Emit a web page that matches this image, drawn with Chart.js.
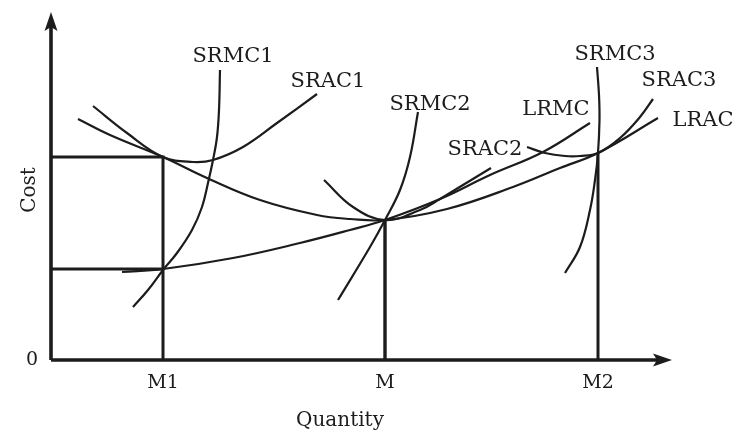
<!DOCTYPE html>
<html>
<head>
<meta charset="utf-8">
<script src="https://cdn.jsdelivr.net/npm/chart.js@4/dist/chart.umd.min.js"></script>
<style>
  html, body { margin: 0; padding: 0; background: #fff; }
  #wrap { width: 745px; height: 437px; }
</style>
</head>
<body>
<div id="wrap"><canvas id="costChart"></canvas></div>
<script>
// quantity levels on the x axis
const qM1 = 11.2, qM = 33.4, qM2 = 54.7;
const tickNames = ['M1', 'M', 'M2'];
const tickValues = [qM1, qM, qM2];

// cost levels marked by the guide lines
const costM1 = 20.3, costM1mc = 9.1, costM = 14.0, costM2 = 20.7;

// curves as [quantity, cost]
const lrac  = [[2.7,24.1],[5.9,22.5],[11.2,20.3],[15.6,18.2],[20.9,16.0],[26.6,14.5],[29.9,14.1],[33.4,14.0],[39.6,15.1],[46.2,17.3],[50.9,19.2],[54.7,20.7],[60.7,24.2]];
const lrmc  = [[7.1,8.8],[11.2,9.1],[18.2,10.2],[24.9,11.7],[29.9,13.0],[33.4,14.0],[38.9,16.1],[43.9,18.5],[49.2,20.8],[53.9,23.7]];
const srac1 = [[4.2,25.4],[7.6,22.7],[11.2,20.3],[14.2,19.8],[16.2,20.0],[19.2,21.3],[22.6,23.7],[26.6,26.6]];
const srmc1 = [[8.2,5.3],[9.7,7.0],[11.2,9.0],[12.6,10.7],[14.1,13.0],[15.1,15.3],[15.7,17.7],[16.2,20.0],[16.6,22.3],[16.8,25.0],[16.9,29.0]];
const srac2 = [[27.3,18.0],[30.2,15.3],[33.4,14.0],[36.9,15.0],[38.9,16.1],[41.2,17.5],[44.0,19.2]];
const srmc2 = [[28.7,6.0],[31.9,11.3],[33.4,14.0],[34.9,17.0],[35.9,20.3],[36.7,24.8]];
const srac3 = [[47.6,21.3],[49.4,20.7],[51.4,20.4],[52.9,20.4],[54.7,20.7],[56.9,22.2],[58.9,24.3],[60.2,26.1]];
const srmc3 = [[51.4,8.7],[52.9,11.3],[53.9,15.0],[54.4,18.0],[54.7,20.7],[54.85,24.0],[54.8,26.5],[54.6,29.3]];

// curve names and where their labels sit
const curveNames = ['SRMC1', 'SRAC1', 'SRMC2', 'LRMC', 'SRAC2', 'SRMC3', 'SRAC3', 'LRAC'];
const curveLabelAt = [[18.2,30.3],[27.7,27.8],[37.9,25.5],[50.5,25.0],[43.4,21.0],[56.4,30.5],[62.8,27.9],[65.2,23.9]];

const xMax = 62.1, yMax = 34.8;
const ink = '#1c1c1c';
const serif = '"DejaVu Serif", "Liberation Serif", serif';

const pts = arr => arr.map(p => ({ x: p[0], y: p[1] }));

// arrow head image used as point style
function arrowHead() {
  const c = document.createElement('canvas');
  c.width = 14; c.height = 20;
  const g = c.getContext('2d');
  g.fillStyle = ink;
  g.beginPath();
  g.moveTo(7, 0);
  g.lineTo(13.5, 19);
  g.lineTo(7, 15);
  g.lineTo(0.5, 19);
  g.closePath();
  g.fill();
  return c;
}
const arrow = arrowHead();

function curve(arr) {
  return { data: pts(arr), showLine: true, borderColor: ink, borderWidth: 2.2, pointRadius: 0, tension: 0.4, clip: false };
}
function straight(arr, w) {
  return { data: pts(arr), showLine: true, borderColor: ink, borderWidth: w, pointRadius: 0, tension: 0, clip: false };
}

const datasets = [
  // axes
  straight([[0,0],[0,yMax - 1.0]], 3.6),
  straight([[0,0],[xMax - 1.0,0]], 3.6),
  { data: [{ x: 0, y: yMax - 1.0 }], pointStyle: arrow, pointRotation: 0, clip: false, showLine: false },
  { data: [{ x: xMax - 1.0, y: 0 }], pointStyle: arrow, pointRotation: 90, clip: false, showLine: false },
  // guide lines
  straight([[0,costM1],[qM1,costM1],[qM1,0]], 3),
  straight([[0,costM1mc],[qM1,costM1mc]], 3),
  straight([[qM,costM],[qM,0]], 3.4),
  straight([[qM2,costM2],[qM2,0]], 3),
  // cost curves
  curve(lrac), curve(lrmc), curve(srac1), curve(srmc1),
  curve(srac2), curve(srmc2), curve(srac3), curve(srmc3)
];

const textPlugin = {
  id: 'texts',
  afterDatasetsDraw(chart) {
    const { ctx, scales: { x, y } } = chart;
    ctx.save();
    ctx.fillStyle = ink;
    ctx.font = '21px ' + serif;
    ctx.textAlign = 'center';
    ctx.textBaseline = 'middle';
    curveNames.forEach((n, i) => {
      ctx.fillText(n, x.getPixelForValue(curveLabelAt[i][0]), y.getPixelForValue(curveLabelAt[i][1]));
    });
    ctx.font = '19px ' + serif;
    tickNames.forEach((n, i) => {
      ctx.fillText(n, x.getPixelForValue(tickValues[i]), y.getPixelForValue(0) + 23);
    });
    ctx.fillText('0', x.getPixelForValue(0) - 19, y.getPixelForValue(0));
    ctx.font = '20px ' + serif;
    ctx.fillText('Quantity', 340, 421);
    ctx.translate(30, 190);
    ctx.rotate(-Math.PI / 2);
    ctx.fillText('Cost', 0, 0);
    ctx.restore();
  }
};

new Chart(document.getElementById('costChart'), {
  type: 'scatter',
  data: { datasets: datasets },
  options: {
    responsive: true,
    maintainAspectRatio: false,
    animation: false,
    layout: { padding: { left: 51, right: 73, top: 12, bottom: 77 } },
    plugins: { legend: { display: false }, tooltip: { enabled: false } },
    scales: {
      x: { type: 'linear', min: 0, max: xMax, display: false },
      y: { type: 'linear', min: 0, max: yMax, display: false }
    }
  },
  plugins: [textPlugin]
});
</script>
</body>
</html>
